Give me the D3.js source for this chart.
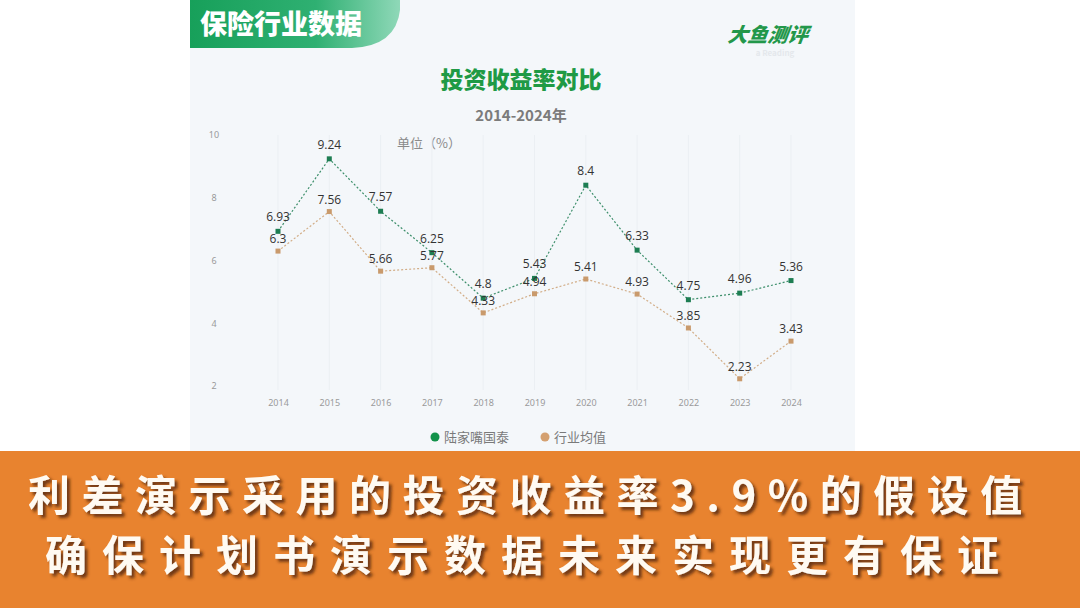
<!DOCTYPE html>
<html>
<head>
<meta charset="utf-8">
<script src="https://cdn.jsdelivr.net/npm/d3@7"></script>
<style>
  html, body { margin: 0; padding: 0; background: #ffffff; }
  svg { display: block; font-family: "Noto Sans CJK SC", "Noto Sans", sans-serif; }
</style>
</head>
<body>
<div id="chart"></div>
<script>
// data
const years = ["2014", "2015", "2016", "2017", "2018", "2019", "2020", "2021", "2022", "2023", "2024"];
const ljzValues = [6.93, 9.24, 7.57, 6.25, 4.8, 5.43, 8.4, 6.33, 4.75, 4.96, 5.36];
const avgValues = [6.3, 7.56, 5.66, 5.77, 4.33, 4.94, 5.41, 4.93, 3.85, 2.23, 3.43];
const yTicks = [2, 4, 6, 8, 10];
const seriesNames = ["陆家嘴国泰", "行业均值"];
const bannerLines = ["利差演示采用的投资收益率3.9%的假设值", "确保计划书演示数据未来实现更有保证"];

const W = 1080, H = 608;

const svg = d3.select("#chart")
    .append("svg")
    .attr("width", W)
    .attr("height", H);

const defs = svg.append("defs");

let grad = defs.append("linearGradient").attr("id", "tabGrad")
    .attr("x1", "0%").attr("x2", "100%").attr("y1", "0%").attr("y2", "0%");
grad.append("stop").attr("offset", "0%").attr("stop-color", "#17a05a");
grad.append("stop").attr("offset", "60%").attr("stop-color", "#2fb072");
grad.append("stop").attr("offset", "100%").attr("stop-color", "#8fd8b8");

let shadow = defs.append("filter").attr("id", "txtShadow")
    .attr("x", "-5%").attr("y", "-20%").attr("width", "110%").attr("height", "150%");
shadow.append("feDropShadow")
    .attr("dx", 3).attr("dy", 3).attr("stdDeviation", 1.5)
    .attr("flood-color", "#5a2a08").attr("flood-opacity", 0.85);

// panel background
svg.append("rect")
    .attr("x", 190).attr("y", 0)
    .attr("width", 665).attr("height", 452)
    .attr("fill", "#f4f7fa");

// header tab
svg.append("path")
    .attr("d", "M190,0 H400 V10 Q396,46 352,48 H190 Z")
    .attr("fill", "url(#tabGrad)");
svg.append("text")
    .attr("x", 200).attr("y", 34)
    .attr("fill", "#ffffff")
    .attr("font-size", 27).attr("font-weight", 900)
    .text("保险行业数据");

// watermark
svg.append("text")
    .attr("x", 768).attr("y", 42)
    .attr("text-anchor", "middle")
    .attr("fill", "#23974a")
    .attr("font-size", 20).attr("font-weight", 900)
    .attr("font-style", "italic")
    .attr("transform", "skewX(-8) translate(5,0)")
    .text("大鱼测评");
svg.append("text")
    .attr("x", 775).attr("y", 56)
    .attr("text-anchor", "middle")
    .attr("fill", "#e4e8ec")
    .attr("font-size", 8).attr("font-weight", 700)
    .text("a  Reading");

// titles
svg.append("text")
    .attr("x", 521).attr("y", 88)
    .attr("text-anchor", "middle")
    .attr("fill", "#1f9a45")
    .attr("font-size", 23).attr("font-weight", 900)
    .text("投资收益率对比");
svg.append("text")
    .attr("x", 521).attr("y", 121)
    .attr("text-anchor", "middle")
    .attr("fill", "#7b7b7b")
    .attr("font-size", 15).attr("font-weight", 700)
    .text("2014-2024年");
svg.append("text")
    .attr("x", 397).attr("y", 148)
    .attr("fill", "#8a8a8a")
    .attr("font-size", 13)
    .text("单位（%）");

// scales
const x = d3.scalePoint().domain(years).range([278, 791]);
const y = d3.scaleLinear().domain([2, 10]).range([386, 135]);

// faint vertical grid
svg.append("g")
    .selectAll("line")
    .data(years)
    .join("line")
    .attr("x1", d => x(d)).attr("x2", d => x(d))
    .attr("y1", 135).attr("y2", 390)
    .attr("stroke", "#ebeff3")
    .attr("stroke-width", 1);

// axes
const yAxis = svg.append("g")
    .attr("transform", "translate(220,0)")
    .call(d3.axisLeft(y).tickValues(yTicks).tickSize(0).tickPadding(0));
yAxis.select(".domain").remove();
yAxis.selectAll("text")
    .attr("fill", "#9a9a9a")
    .attr("font-size", 9)
    .attr("text-anchor", "middle")
    .attr("x", -6)
    .style("font-family", "'Noto Sans', sans-serif");

const xAxis = svg.append("g")
    .attr("transform", "translate(0,400)")
    .call(d3.axisBottom(x).tickSize(0).tickPadding(0));
xAxis.select(".domain").remove();
xAxis.selectAll("text")
    .attr("fill", "#9a9a9a")
    .attr("font-size", 9)
    .style("font-family", "'Noto Sans', sans-serif");

// series
const series = [
    { name: seriesNames[0], values: ljzValues, line: "#3d8f6b", mark: "#1d7d52", dy: -10 },
    { name: seriesNames[1], values: avgValues, line: "#d2ad87", mark: "#c99a6c", dy: -8 }
];

const line = d3.line()
    .x((d, i) => x(years[i]))
    .y(d => y(d));

series.forEach(s => {
    svg.append("path")
        .datum(s.values)
        .attr("d", line)
        .attr("fill", "none")
        .attr("stroke", s.line)
        .attr("stroke-width", 1.2)
        .attr("stroke-dasharray", "2,2");

    svg.append("g")
        .selectAll("rect")
        .data(s.values)
        .join("rect")
        .attr("x", (d, i) => x(years[i]) - 2.5)
        .attr("y", d => y(d) - 2.5)
        .attr("width", 5).attr("height", 5)
        .attr("fill", s.mark);

    svg.append("g")
        .selectAll("text")
        .data(s.values)
        .join("text")
        .attr("x", (d, i) => x(years[i]))
        .attr("y", d => y(d) + s.dy)
        .attr("text-anchor", "middle")
        .attr("fill", "#333333")
        .attr("font-size", 12)
        .style("font-family", "'Open Sans', 'Noto Sans', sans-serif")
        .text(d => d);
});

// legend
const legend = svg.append("g").attr("transform", "translate(0,437)");
series.forEach((s, i) => {
    let lx = 435 + i * 110;
    legend.append("circle")
        .attr("cx", lx).attr("cy", 0).attr("r", 4.5)
        .attr("fill", i === 0 ? "#12924a" : "#d4a070");
    legend.append("text")
        .attr("x", lx + 9).attr("y", 5)
        .attr("fill", "#7a7a7a")
        .attr("font-size", 13)
        .text(s.name);
});

// orange banner
svg.append("rect")
    .attr("x", 0).attr("y", 451)
    .attr("width", W).attr("height", H - 451)
    .attr("fill", "#e8832f");

const bannerLayout = [
    { x: 28, y: 511, ls: 11.5 },
    { x: 45, y: 571, ls: 15 }
];
bannerLines.forEach((t, i) => {
    let b = bannerLayout[i];
    svg.append("text")
        .attr("x", b.x).attr("y", b.y)
        .attr("letter-spacing", b.ls)
        .attr("fill", "#fffaf2")
        .attr("font-size", 42).attr("font-weight", 700)
        .attr("filter", "url(#txtShadow)")
        .text(t);
});
</script>
</body>
</html>
